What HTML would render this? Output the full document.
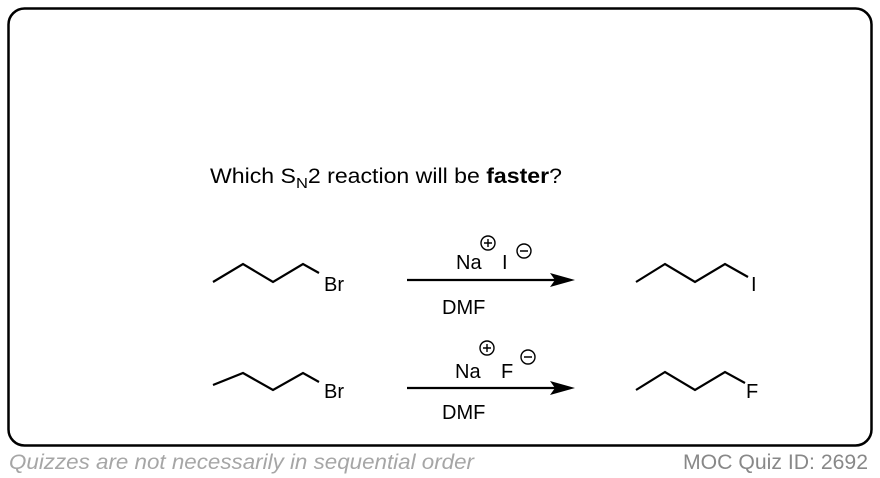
<!DOCTYPE html>
<html><head><style>
html,body{margin:0;padding:0;background:#fff;}
svg{display:block;}
text{font-family:"Liberation Sans",Arial,sans-serif;}
</style></head><body>
<svg width="880" height="478" viewBox="0 0 880 478" xmlns="http://www.w3.org/2000/svg">
<rect x="8.5" y="8.5" width="863" height="437" rx="16" ry="16" fill="none" stroke="#000" stroke-width="2.5"/>
<text x="210" y="183" font-size="21" fill="#000" textLength="352" lengthAdjust="spacingAndGlyphs">Which S<tspan font-size="15" dy="5">N</tspan><tspan dy="-5">2 reaction will be </tspan><tspan font-weight="bold">faster</tspan>?</text>
<g fill="none" stroke="#000" stroke-width="2.2" stroke-linejoin="miter">
<polyline points="213,282 243,264 273,282 303,264 319,273"/>
<polyline points="213,385 243,373 273,390 303,373 319,382"/>
<polyline points="636,282 665,264 695,282 725,264 748,277"/>
<polyline points="636,390 665,372 695,390 725,372 745,383"/>
<line x1="407" y1="280" x2="555" y2="280"/>
<line x1="407" y1="388" x2="555" y2="388"/>
<circle cx="488" cy="243" r="7" stroke-width="1.4"/>
<circle cx="524" cy="251" r="7" stroke-width="1.4"/>
<circle cx="487" cy="348" r="7" stroke-width="1.4"/>
<circle cx="528" cy="357" r="7" stroke-width="1.4"/>
<path d="M484,243h8M488,239v8M520,251h8M483,348h8M487,344v8M524,357h8" stroke-width="1.4"/>
</g>
<polygon points="575,280 550,273 555,280 550,287" fill="#000"/>
<polygon points="575,388 550,381 555,388 550,395" fill="#000"/>
<g font-size="20" fill="#000">
<text x="324" y="291">Br</text>
<text x="324" y="398">Br</text>
<text x="751" y="291">I</text>
<text x="746" y="398">F</text>
<text x="456" y="269">Na</text>
<text x="502" y="269">I</text>
<text x="455" y="378">Na</text>
<text x="501" y="378">F</text>
<text x="442" y="314">DMF</text>
<text x="442" y="419">DMF</text>
</g>
<text x="9" y="469" font-size="21" font-style="italic" fill="#a6a6a6" textLength="465" lengthAdjust="spacingAndGlyphs">Quizzes are not necessarily in sequential order</text>
<text x="683" y="469" font-size="21" fill="#888" textLength="185" lengthAdjust="spacingAndGlyphs">MOC Quiz ID: 2692</text>
</svg>
</body></html>
